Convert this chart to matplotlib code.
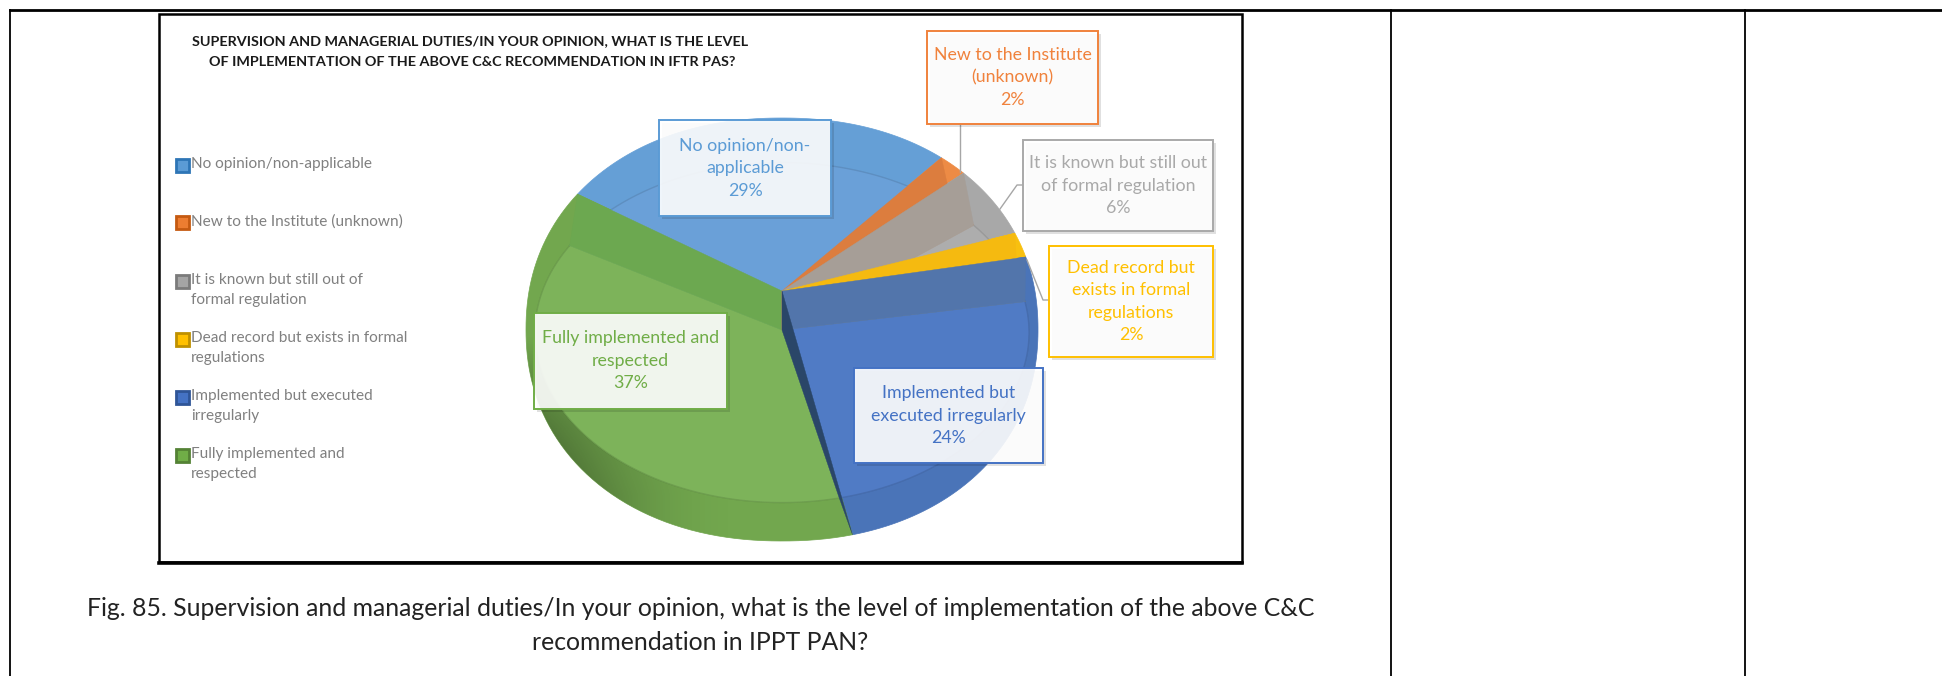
#!/usr/bin/python3
import numpy as np
import matplotlib
matplotlib.use("Agg")
import matplotlib.pyplot as plt
from matplotlib.patches import Polygon, Rectangle

plt.rcParams['font.family'] = ['Lato', 'DejaVu Sans']

# Datos
title_lines = ["SUPERVISION AND MANAGERIAL DUTIES/IN YOUR OPINION, WHAT IS THE LEVEL",
               "OF IMPLEMENTATION OF THE ABOVE C&C RECOMMENDATION IN IFTR PAS?"]
caption_lines = ["Fig. 85. Supervision and managerial duties/In your opinion, what is the level of implementation of the above C&C",
                 "recommendation in IPPT PAN?"]
values = [29, 2, 6, 2, 24, 37]
legend_labels = ["No opinion/non-applicable",
                 "New to the Institute (unknown)",
                 "It is known but still out of\nformal regulation",
                 "Dead record but exists in formal\nregulations",
                 "Implemented but executed\nirregularly",
                 "Fully implemented and\nrespected"]
box_labels = ["No opinion/non-\napplicable",
              "New to the Institute\n(unknown)",
              "It is known but still out\nof formal regulation",
              "Dead record but\nexists in formal\nregulations",
              "Implemented but\nexecuted irregularly",
              "Fully implemented and\nrespected"]

# Estilos
text_colors = ['#5b9bd5', '#f0823c', '#a9a9a9', '#ffc000', '#4472c4', '#70ad47']
rim_colors = ['#659fd6', '#ed8b45', '#a8a8a8', '#f8c00f', '#4a74b8', '#72a74e']
face_colors = ['#6aa0d8', '#dd7e3f', '#adadad', '#f5bb10', '#507bc5', '#7db35a']
# pared de cada frontera, empezando en la frontera verde/azul
wall_colors = ['#6ca850', '#dc7d3e', '#a69e97', '#f5ba10', '#5275ab', '#2a4668']
legend_edge = ['#2e75b6', '#c55a11', '#7b7b7b', '#bf9000', '#2f5597', '#548235']
legend_fill = ['#5b9bd5', '#ed7d31', '#a5a5a5', '#ffc000', '#4472c4', '#70ad47']

legend_y = [165, 222, 281, 339, 397, 455]
# x0, y0, x1, y1 de cada caja
boxes = [(659, 120, 831, 216), (927, 31, 1098, 124), (1023, 140, 1213, 231),
         (1049, 246, 1213, 357), (854, 368, 1043, 463), (534, 313, 727, 409)]
leaders = [None,
           ([960, 960], [124, 172]),
           ([1023, 1017, 1000], [185, 185, 209]),
           ([1049, 1043, 1027], [300, 300, 260]),
           None, None]

START_ANGLE = 150
APEX_TOP = (782, 291)
APEX_BOTTOM = (782, 330)
RIM_CENTER = (782, 329.5)


def rim_point(t):
    """Borde exterior: circulo en perspectiva con el centro en APEX_TOP."""
    t = np.radians(t)
    d = 1 + 0.182 * np.sin(t)
    x = APEX_TOP[0] + 251.7 * np.cos(t) / d
    y = APEX_TOP[1] - 204.5 * np.sin(t) / d
    # el contorno del original es algo mas lleno que una elipse
    u = (x - RIM_CENTER[0]) / 256
    v = (y - RIM_CENTER[1]) / 211.5
    f = (np.abs(u) ** 2.15 + np.abs(v) ** 2.15) ** (-1 / 2.15)
    return RIM_CENTER[0] + 256 * u * f, RIM_CENTER[1] + 211.5 * v * f


def face_point(t):
    """Borde de la cara interior, con el centro en APEX_BOTTOM."""
    t = np.radians(t)
    d = 1 + 0.015 * np.sin(t)
    return APEX_BOTTOM[0] + 247 * np.cos(t) / d, APEX_BOTTOM[1] - 170 * np.sin(t) / d


def wedge(ax, apex, point, t0, t1, color, zorder):
    ts = np.linspace(t0, t1, 80)
    xs, ys = point(ts)
    verts = np.column_stack([np.r_[apex[0], xs], np.r_[apex[1], ys]])
    patch = Polygon(verts, closed=True, facecolor=color, edgecolor=color, lw=0.5, zorder=zorder)
    ax.add_patch(patch)
    return patch


fig = plt.figure(figsize=(19.42, 6.76), dpi=100)
ax = fig.add_axes([0, 0, 1, 1])
ax.set_xlim(0, 1942)
ax.set_ylim(676, 0)
ax.axis('off')

# Tabla del documento
ax.plot([10, 1942], [10, 10], color='black', lw=2)
for x in [10, 1391, 1745]:
    ax.plot([x, x], [10, 676], color='black', lw=1.3)

# Marco del grafico
ax.add_patch(Rectangle((159, 14), 1083, 548, fill=False, edgecolor='black', lw=1.8))
ax.plot([159, 1242], [562.5, 562.5], color='black', lw=2.6)

# Porciones
edges = START_ANGLE - 3.6 * np.r_[0, np.cumsum(values)]
for i in range(len(values)):
    band = wedge(ax, APEX_TOP, rim_point, edges[i], edges[i + 1], rim_colors[i], 2)
    if i == 5:
        # sombra del lateral verde, abajo a la izquierda
        ramp_x = np.linspace(1, 0, 256) ** 2.5
        ramp_y = np.clip(np.linspace(0, 1.4, 128), 0, 1)
        shade = np.zeros((128, 256, 4))
        shade[:, :, 3] = 0.6 * np.outer(ramp_y, ramp_x)
        img = ax.imshow(shade, extent=(526, 760, 560, 335), aspect='auto', zorder=2.5)
        img.set_clip_path(band)
        ax.set_xlim(0, 1942)
        ax.set_ylim(676, 0)
for i in range(len(values)):
    wedge(ax, APEX_BOTTOM, face_point, edges[i], edges[i + 1], face_colors[i], 3)

# Contorno tenue de la cara
ts = np.linspace(edges[0], edges[-1], 400)
fx, fy = face_point(ts)
ax.plot(fx, fy, color='black', alpha=0.10, lw=1, zorder=3.5)

# Paredes de cada frontera
for i in range(len(values)):
    rx, ry = rim_point(edges[i])
    fx, fy = face_point(edges[i])
    ax.add_patch(Polygon([APEX_TOP, (rx, ry), (fx, fy), APEX_BOTTOM], closed=True,
                         facecolor=wall_colors[i], edgecolor=wall_colors[i], lw=0.3, zorder=4 + i * 0.01))

# Lineas de guia
for leader in leaders:
    if leader:
        ax.plot(leader[0], leader[1], color='#a6a6a6', lw=1, zorder=5)

# Etiquetas
for i, (x0, y0, x1, y1) in enumerate(boxes):
    ax.add_patch(Rectangle((x0 + 3, y0 + 3), x1 - x0, y1 - y0, facecolor='black', alpha=0.12, lw=0, zorder=6))
    ax.add_patch(Rectangle((x0, y0), x1 - x0, y1 - y0, facecolor='white', alpha=0.9, lw=0, zorder=6.5))
    ax.add_patch(Rectangle((x0, y0), x1 - x0, y1 - y0, fill=False, edgecolor=text_colors[i], lw=1.4, zorder=7))
    ax.text((x0 + x1) / 2, (y0 + y1) / 2, f"{box_labels[i]}\n{values[i]}%", color=text_colors[i],
            fontsize=12.8, ha='center', va='center', linespacing=1.5, zorder=8)

# Leyenda
for i, y in enumerate(legend_y):
    ax.add_patch(Rectangle((175.5, y - 6.5), 13, 13, facecolor=legend_fill[i], edgecolor=legend_edge[i], lw=2))
    ax.text(191, y - 8, legend_labels[i], color='#808080', fontsize=11.1, ha='left', va='top', linespacing=1.57)

# Titulo y pie
ax.text(470, 41, title_lines[0], fontsize=10.4, fontweight='bold', color='#1a1a1a', ha='center', va='center')
ax.text(472, 62, title_lines[1], fontsize=10.4, fontweight='bold', color='#1a1a1a', ha='center', va='center')
ax.text(701, 609, caption_lines[0], fontsize=17.8, color='#222222', ha='center', va='center')
ax.text(700, 643, caption_lines[1], fontsize=17.8, color='#222222', ha='center', va='center')

plt.savefig("out.png", dpi=100)
